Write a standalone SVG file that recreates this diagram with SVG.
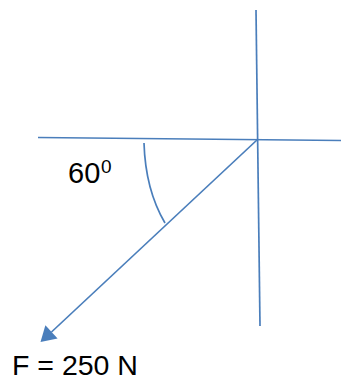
<svg xmlns="http://www.w3.org/2000/svg" width="341" height="381" viewBox="0 0 341 381">
<style>
.ln{stroke:#4a7ebb;stroke-width:1.7;fill:none;stroke-linecap:butt}
.t{font-family:"Liberation Sans",Arial,sans-serif;fill:#000}
</style>
<rect width="341" height="381" fill="#fff"/>
<g id="connectors">
<line class="ln" x1="256" y1="10" x2="260" y2="326"/>
<line class="ln" x1="38" y1="137.5" x2="341" y2="140.5"/>
<line class="ln" x1="257.5" y1="139.5" x2="51.5" y2="332"/>
<polygon points="40.5,342 45.4,325.2 57.6,338.4" fill="#4a7ebb"/>
<path class="ln" d="M144,143 C145,176 152,201 165,223"/>
</g>
<g id="angle-label">
<text class="t" x="68" y="183" font-size="29">60</text>
<text class="t" x="101" y="173" font-size="19">0</text>
</g>
<g id="force-label">
<text class="t" x="12" y="375" font-size="28.5">F = 250 N</text>
</g>
</svg>
